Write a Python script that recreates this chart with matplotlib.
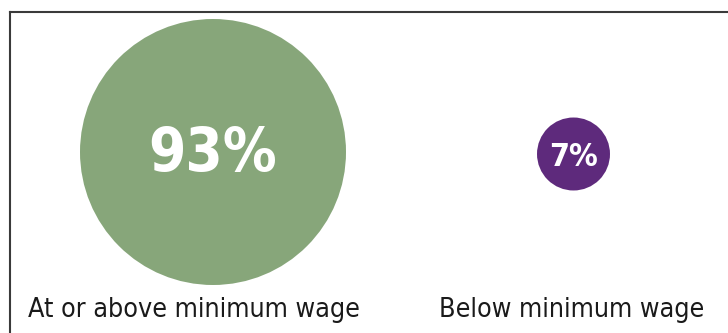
import matplotlib.pyplot as plt
from matplotlib.lines import Line2D
import numpy as np

# share of workers by wage level
categories = ['At or above minimum wage', 'Below minimum wage']
shares = [93, 7]
colors = ['#87a67a', '#5e2a7c']

W, H = 728, 333
fig = plt.figure(figsize=(W / 100, H / 100), dpi=100)
ax = fig.add_axes([0, 0, 1, 1])
ax.set_xlim(0, W)
ax.set_ylim(H, 0)
ax.axis('off')

# bubble centres in pixels, area proportional to share
cx = [213, 573.5]
cy = [152, 154]
big_r_pt = 133 * 72 / 100
size_per_unit = (2 * big_r_pt) ** 2 / max(shares)
sizes = [s * size_per_unit for s in shares]
ax.scatter(cx, cy, s=sizes, c=colors, linewidths=0, zorder=2)

# percentages inside the bubbles
fnt = dict(family='DejaVu Sans', fontstretch='condensed')
ax.text(cx[0], cy[0] + 3, f'{shares[0]}%', color='white', fontsize=43,
        fontweight='bold', ha='center', va='center', zorder=3, **fnt)
ax.text(cx[1], cy[1] + 3, f'{shares[1]}%', color='white', fontsize=23,
        fontweight='bold', ha='center', va='center', zorder=3, **fnt)

# category labels underneath
ax.text(28, 317, categories[0], fontsize=19.3, color='#1a1a1a',
        ha='left', va='baseline', **fnt)
ax.text(571.5, 317, categories[1], fontsize=19.3, color='#1a1a1a',
        ha='center', va='baseline', **fnt)

# frame on top and left only
ax.add_line(Line2D([9.5, W], [11.5, 11.5], color='#3a3a3a', lw=1.5))
ax.add_line(Line2D([9.5, 9.5], [11.5, H], color='#3a3a3a', lw=1.5))

fig.savefig('out.png', dpi=100)
